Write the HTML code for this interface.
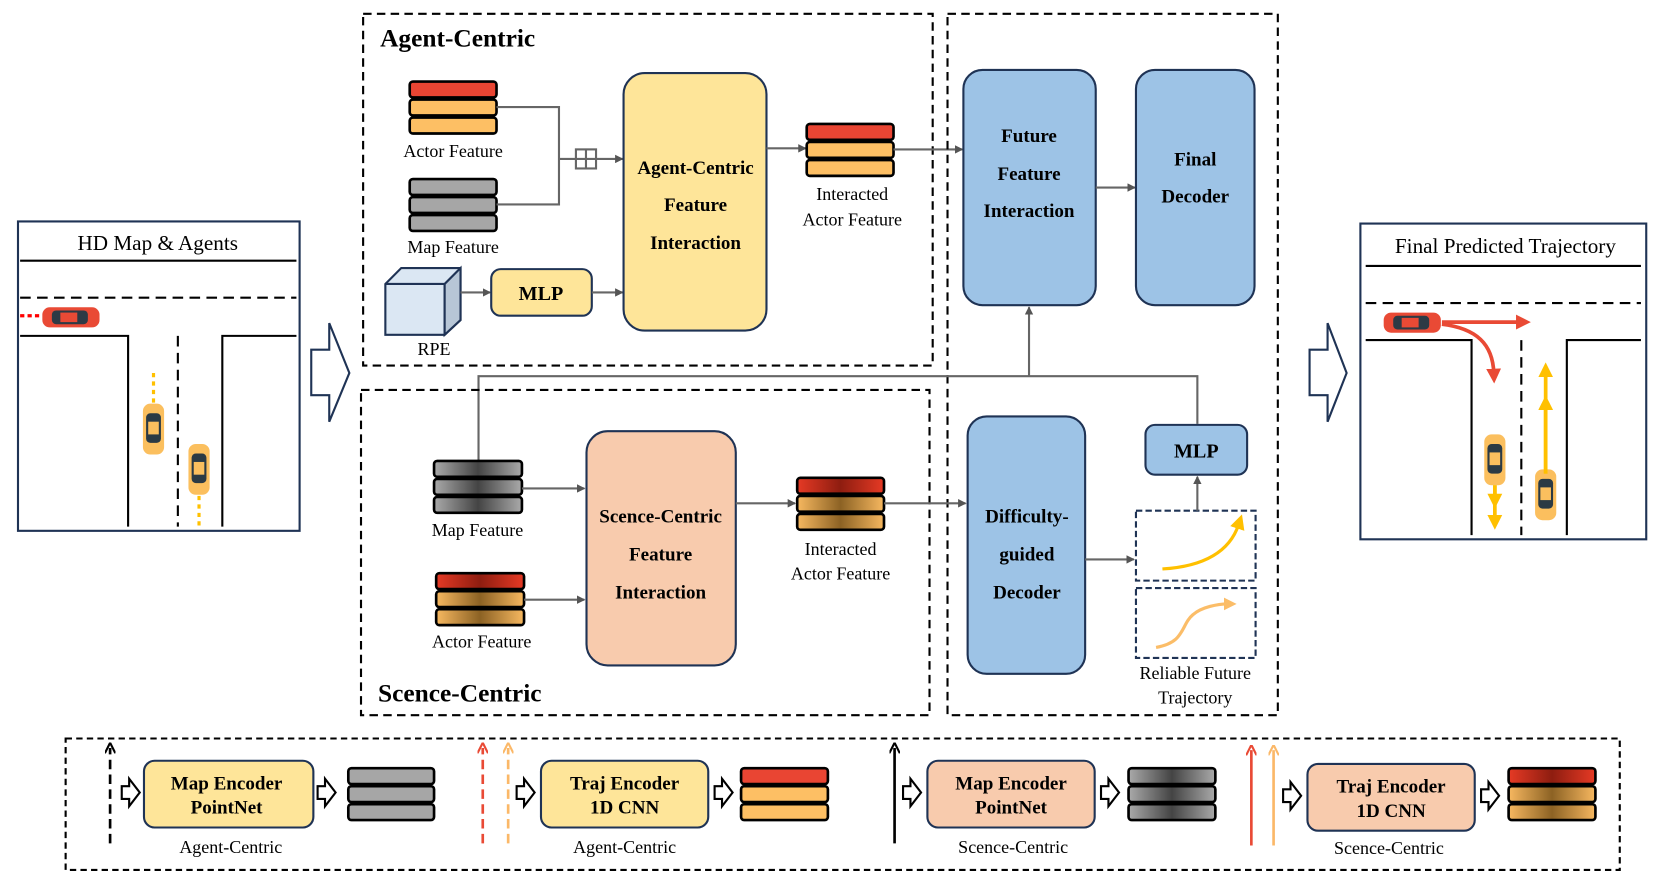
<!DOCTYPE html>
<html><head><meta charset="utf-8"><style>
html,body{margin:0;padding:0;background:#fff}
svg{display:block}
text{font-family:"Liberation Serif",serif;fill:#000}
.b{font-weight:bold}
</style></head><body>
<svg width="1660" height="872" viewBox="0 0 1568 823" preserveAspectRatio="none" xmlns="http://www.w3.org/2000/svg">
<defs>
<marker id="ar" markerWidth="8" markerHeight="8" refX="7" refY="4" orient="auto" markerUnits="userSpaceOnUse"><path d="M0,0 L8,4 L0,8 z" fill="#555"/></marker>
<marker id="ak" markerWidth="10" markerHeight="10" refX="5" refY="5" orient="auto" markerUnits="userSpaceOnUse"><path d="M0,0 L10,5 L0,10" fill="none" stroke="#000" stroke-width="2"/></marker>
<marker id="ared" markerWidth="10" markerHeight="10" refX="5" refY="5" orient="auto" markerUnits="userSpaceOnUse"><path d="M0,0 L10,5 L0,10" fill="none" stroke="#e94a35" stroke-width="2"/></marker>
<marker id="aor" markerWidth="10" markerHeight="10" refX="5" refY="5" orient="auto" markerUnits="userSpaceOnUse"><path d="M0,0 L10,5 L0,10" fill="none" stroke="#fbb868" stroke-width="2"/></marker>
<marker id="rr" markerWidth="14" markerHeight="14" refX="4" refY="7" orient="auto" markerUnits="userSpaceOnUse"><path d="M0,0 L14,7 L0,14 z" fill="#e94a35"/></marker>
<marker id="yy" markerWidth="14" markerHeight="14" refX="4" refY="7" orient="auto" markerUnits="userSpaceOnUse"><path d="M0,0 L14,7 L0,14 z" fill="#ffc000"/></marker>
<marker id="ly" markerWidth="12" markerHeight="12" refX="4" refY="6" orient="auto" markerUnits="userSpaceOnUse"><path d="M0,0 L12,6 L0,12 z" fill="#fbbd68"/></marker>
<linearGradient id="gg" x1="0" x2="1"><stop offset="0" stop-color="#aaa"/><stop offset=".5" stop-color="#444"/><stop offset="1" stop-color="#aaa"/></linearGradient>
<linearGradient id="gr" x1="0" x2="1"><stop offset="0" stop-color="#e63a25"/><stop offset=".5" stop-color="#8e1d10"/><stop offset="1" stop-color="#e63a25"/></linearGradient>
<linearGradient id="go" x1="0" x2="1"><stop offset="0" stop-color="#f7b860"/><stop offset=".5" stop-color="#8c6224"/><stop offset="1" stop-color="#f7b860"/></linearGradient>
<g id="car"><rect x="0" y="0" width="20" height="48" rx="7" fill="#fbbf5e"/><rect x="3" y="9" width="14" height="28" rx="4" fill="#2b3a44"/><rect x="5" y="17" width="10" height="12" fill="#fbbf5e"/></g>
<g id="rcar"><rect x="0" y="0" width="54" height="19" rx="7" fill="#e94a35"/><rect x="9" y="3" width="34" height="13" rx="4" fill="#2d3a45"/><rect x="17" y="5" width="16" height="9" fill="#e94a35"/></g>
</defs>

<!-- Left box -->
<rect x="17" y="209" width="266" height="292" fill="#fff" stroke="#1f3355" stroke-width="2"/>
<text x="149" y="236" font-size="20" text-anchor="middle">HD Map &amp; Agents</text>
<line x1="19" y1="246" x2="280" y2="246" stroke="#000" stroke-width="2"/>
<line x1="19" y1="281" x2="280" y2="281" stroke="#000" stroke-width="2" stroke-dasharray="10,6"/>
<path d="M19,317 H121 V497 M280,317 H210 V497" fill="none" stroke="#000" stroke-width="2"/>
<line x1="168" y1="317" x2="168" y2="497" stroke="#000" stroke-width="2" stroke-dasharray="10,6"/>
<line x1="19" y1="298" x2="40" y2="298" stroke="#f00" stroke-width="3" stroke-dasharray="4,3"/>
<use href="#rcar" x="40" y="290"/>
<line x1="145" y1="352" x2="145" y2="380" stroke="#ffc000" stroke-width="3" stroke-dasharray="4,4"/>
<use href="#car" x="135" y="381"/>
<use href="#car" x="178" y="419"/>
<line x1="188" y1="468" x2="188" y2="497" stroke="#ffc000" stroke-width="3" stroke-dasharray="4,4"/>

<!-- big arrows -->
<path d="M294,330 H311 V305 L330,352 L311,398 V373 H294 Z" fill="#fff" stroke="#1f3355" stroke-width="2"/>
<path d="M1237,330 H1254 V305 L1272,352 L1254,398 V373 H1237 Z" fill="#fff" stroke="#1f3355" stroke-width="2"/>

<!-- Agent-Centric -->
<rect x="343" y="13" width="538" height="332" fill="none" stroke="#000" stroke-width="2" stroke-dasharray="8,5"/>
<text x="359" y="44" font-size="24" class="b">Agent-Centric</text>
<g stroke="#000" stroke-width="2.5">
<rect x="387" y="77" width="82" height="15" rx="3" fill="#e94533"/>
<rect x="387" y="94" width="82" height="15" rx="3" fill="#fdbf64"/>
<rect x="387" y="111" width="82" height="15" rx="3" fill="#fdbf64"/>
<rect x="387" y="169" width="82" height="15" rx="3" fill="#a6a6a6"/>
<rect x="387" y="186" width="82" height="15" rx="3" fill="#a6a6a6"/>
<rect x="387" y="203" width="82" height="15" rx="3" fill="#a6a6a6"/>
</g>
<text x="428" y="148" font-size="17" text-anchor="middle">Actor Feature</text>
<text x="428" y="239" font-size="17" text-anchor="middle">Map Feature</text>
<path d="M469,101 H528 V193 H469" fill="none" stroke="#666" stroke-width="2"/>
<line x1="528" y1="150" x2="588" y2="150" stroke="#666" stroke-width="2" marker-end="url(#ar)"/>
<rect x="544" y="141" width="19" height="18" fill="#fff" stroke="#666" stroke-width="2"/>
<path d="M553.5,141 V159 M544,150 H563" stroke="#666" stroke-width="2"/>
<path d="M364,268 L379,253 H435 V302 L420,316 H364 Z" fill="#dbe7f3" stroke="#1f3355" stroke-width="2"/>
<path d="M364,268 H420 V316 M420,268 L435,253" fill="none" stroke="#1f3355" stroke-width="2"/>
<path d="M420,268 L435,253 V302 L420,316 Z" fill="#b7c6d6" stroke="#1f3355" stroke-width="2"/>
<text x="410" y="335" font-size="17" text-anchor="middle">RPE</text>
<line x1="435" y1="276" x2="463" y2="276" stroke="#666" stroke-width="2" marker-end="url(#ar)"/>
<rect x="464" y="254" width="95" height="44" rx="9" fill="#fee599" stroke="#1f3355" stroke-width="2"/>
<text x="511" y="283" font-size="19" class="b" text-anchor="middle">MLP</text>
<line x1="559" y1="276" x2="588" y2="276" stroke="#666" stroke-width="2" marker-end="url(#ar)"/>
<rect x="589" y="69" width="135" height="243" rx="20" fill="#fee599" stroke="#1f3355" stroke-width="2"/>
<text x="657" y="164" font-size="18" class="b" text-anchor="middle">Agent-Centric</text>
<text x="657" y="199" font-size="18" class="b" text-anchor="middle">Feature</text>
<text x="657" y="235" font-size="18" class="b" text-anchor="middle">Interaction</text>
<line x1="724" y1="140" x2="761" y2="140" stroke="#666" stroke-width="2" marker-end="url(#ar)"/>
<g stroke="#000" stroke-width="2.5">
<rect x="762" y="117" width="82" height="15" rx="3" fill="#e94533"/>
<rect x="762" y="134" width="82" height="15" rx="3" fill="#fdbf64"/>
<rect x="762" y="151" width="82" height="15" rx="3" fill="#fdbf64"/>
</g>
<text x="805" y="189" font-size="17" text-anchor="middle">Interacted</text>
<text x="805" y="213" font-size="17" text-anchor="middle">Actor Feature</text>
<line x1="844" y1="141" x2="909" y2="141" stroke="#666" stroke-width="2" marker-end="url(#ar)"/>

<!-- right dashed -->
<rect x="895" y="13" width="312" height="662" fill="none" stroke="#000" stroke-width="2" stroke-dasharray="8,5"/>
<rect x="910" y="66" width="125" height="222" rx="18" fill="#9dc3e6" stroke="#1f3355" stroke-width="2"/>
<text x="972" y="134" font-size="18" class="b" text-anchor="middle">Future</text>
<text x="972" y="170" font-size="18" class="b" text-anchor="middle">Feature</text>
<text x="972" y="205" font-size="18" class="b" text-anchor="middle">Interaction</text>
<line x1="1035" y1="177" x2="1072" y2="177" stroke="#666" stroke-width="2" marker-end="url(#ar)"/>
<rect x="1073" y="66" width="112" height="222" rx="18" fill="#9dc3e6" stroke="#1f3355" stroke-width="2"/>
<text x="1129" y="156" font-size="18" class="b" text-anchor="middle">Final</text>
<text x="1129" y="191" font-size="18" class="b" text-anchor="middle">Decoder</text>

<!-- connectors across -->
<path d="M452,435 V355 H1131 V400" fill="none" stroke="#666" stroke-width="2"/>
<line x1="972" y1="355" x2="972" y2="290" stroke="#666" stroke-width="2" marker-end="url(#ar)"/>

<!-- Scene-Centric -->
<rect x="341" y="368" width="537" height="307" fill="none" stroke="#000" stroke-width="2" stroke-dasharray="8,5"/>
<text x="357" y="662" font-size="24" class="b">Scence-Centric</text>
<g stroke="#000" stroke-width="2.5">
<rect x="410" y="435" width="83" height="15" rx="3" fill="url(#gg)"/>
<rect x="410" y="452" width="83" height="15" rx="3" fill="url(#gg)"/>
<rect x="410" y="469" width="83" height="15" rx="3" fill="url(#gg)"/>
<rect x="412" y="541" width="83" height="15" rx="3" fill="url(#gr)"/>
<rect x="412" y="558" width="83" height="15" rx="3" fill="url(#go)"/>
<rect x="412" y="575" width="83" height="15" rx="3" fill="url(#go)"/>
<rect x="753" y="451" width="82" height="15" rx="3" fill="url(#gr)"/>
<rect x="753" y="468" width="82" height="15" rx="3" fill="url(#go)"/>
<rect x="753" y="485" width="82" height="15" rx="3" fill="url(#go)"/>
</g>
<text x="451" y="506" font-size="17" text-anchor="middle">Map Feature</text>
<text x="455" y="611" font-size="17" text-anchor="middle">Actor Feature</text>
<line x1="493" y1="461" x2="552" y2="461" stroke="#666" stroke-width="2" marker-end="url(#ar)"/>
<line x1="495" y1="566" x2="552" y2="566" stroke="#666" stroke-width="2" marker-end="url(#ar)"/>
<rect x="554" y="407" width="141" height="221" rx="20" fill="#f8cbad" stroke="#1f3355" stroke-width="2"/>
<text x="624" y="493" font-size="18" class="b" text-anchor="middle">Scence-Centric</text>
<text x="624" y="529" font-size="18" class="b" text-anchor="middle">Feature</text>
<text x="624" y="565" font-size="18" class="b" text-anchor="middle">Interaction</text>
<line x1="695" y1="475" x2="751" y2="475" stroke="#666" stroke-width="2" marker-end="url(#ar)"/>
<text x="794" y="524" font-size="17" text-anchor="middle">Interacted</text>
<text x="794" y="547" font-size="17" text-anchor="middle">Actor Feature</text>
<line x1="835" y1="475" x2="912" y2="475" stroke="#666" stroke-width="2" marker-end="url(#ar)"/>
<rect x="914" y="393" width="111" height="243" rx="18" fill="#9dc3e6" stroke="#1f3355" stroke-width="2"/>
<text x="970" y="493" font-size="18" class="b" text-anchor="middle">Difficulty-</text>
<text x="970" y="529" font-size="18" class="b" text-anchor="middle">guided</text>
<text x="970" y="565" font-size="18" class="b" text-anchor="middle">Decoder</text>
<line x1="1025" y1="528" x2="1071" y2="528" stroke="#666" stroke-width="2" marker-end="url(#ar)"/>
<rect x="1073" y="482" width="113" height="66" fill="none" stroke="#1f3355" stroke-width="2" stroke-dasharray="6,3"/>
<rect x="1073" y="555" width="113" height="66" fill="none" stroke="#1f3355" stroke-width="2" stroke-dasharray="6,3"/>
<path d="M1098,537 C1130,535 1160,525 1170,495" fill="none" stroke="#ffc000" stroke-width="3" marker-end="url(#yy)"/>
<path d="M1092,611 C1120,606 1115,590 1127,580 C1135,573 1150,570 1160,570" fill="none" stroke="#fbbd68" stroke-width="3" marker-end="url(#ly)"/>
<line x1="1131" y1="482" x2="1131" y2="450" stroke="#666" stroke-width="2" marker-end="url(#ar)"/>
<rect x="1082" y="401" width="96" height="47" rx="9" fill="#9dc3e6" stroke="#1f3355" stroke-width="2"/>
<text x="1130" y="432" font-size="19" class="b" text-anchor="middle">MLP</text>
<text x="1129" y="641" font-size="17" text-anchor="middle">Reliable Future</text>
<text x="1129" y="664" font-size="17" text-anchor="middle">Trajectory</text>

<!-- Right box -->
<rect x="1285" y="211" width="270" height="298" fill="#fff" stroke="#1f3355" stroke-width="2"/>
<text x="1422" y="239" font-size="20" text-anchor="middle">Final Predicted Trajectory</text>
<line x1="1290" y1="251" x2="1550" y2="251" stroke="#000" stroke-width="2"/>
<line x1="1290" y1="286" x2="1550" y2="286" stroke="#000" stroke-width="2" stroke-dasharray="10,6"/>
<path d="M1290,321 H1390 V505 M1550,321 H1480 V505" fill="none" stroke="#000" stroke-width="2"/>
<line x1="1437" y1="321" x2="1437" y2="505" stroke="#000" stroke-width="2" stroke-dasharray="10,6"/>
<use href="#rcar" x="1307" y="295"/>
<line x1="1362" y1="304" x2="1436" y2="304" stroke="#e94a35" stroke-width="3.5" marker-end="url(#rr)"/>
<path d="M1362,306 C1395,310 1410,325 1411,352" fill="none" stroke="#e94a35" stroke-width="3.5" marker-end="url(#rr)"/>
<use href="#car" x="1402" y="410"/>
<line x1="1412" y1="458" x2="1412" y2="490" stroke="#ffc000" stroke-width="3.5" marker-end="url(#yy)"/>
<line x1="1412" y1="458" x2="1412" y2="470" stroke="#ffc000" stroke-width="3.5" marker-end="url(#yy)"/>
<use href="#car" x="1450" y="443"/>
<line x1="1460" y1="447" x2="1460" y2="352" stroke="#ffc000" stroke-width="3.5" marker-end="url(#yy)"/>
<line x1="1460" y1="447" x2="1460" y2="383" stroke="#ffc000" stroke-width="3.5" marker-end="url(#yy)"/>

<!-- Legend -->
<rect x="62" y="697" width="1468" height="124" fill="none" stroke="#000" stroke-width="2" stroke-dasharray="6,4"/>
<line x1="104" y1="796" x2="104" y2="706" stroke="#000" stroke-width="2.5" stroke-dasharray="9,5" marker-end="url(#ak)"/>
<line x1="456" y1="796" x2="456" y2="706" stroke="#e94a35" stroke-width="2.5" stroke-dasharray="9,5" marker-end="url(#ared)"/>
<line x1="480" y1="796" x2="480" y2="706" stroke="#fbb868" stroke-width="2.5" stroke-dasharray="9,5" marker-end="url(#aor)"/>
<line x1="845" y1="796" x2="845" y2="706" stroke="#000" stroke-width="2.5" marker-end="url(#ak)"/>
<line x1="1182" y1="798" x2="1182" y2="708" stroke="#e94a35" stroke-width="2.5" marker-end="url(#ared)"/>
<line x1="1203" y1="798" x2="1203" y2="708" stroke="#fbb868" stroke-width="2.5" marker-end="url(#aor)"/>
<g fill="#fff" stroke="#000" stroke-width="2">
<path d="M115,742 h7 v-7 l10,13 l-10,13 v-7 h-7 z"/>
<path d="M300,742 h7 v-7 l10,13 l-10,13 v-7 h-7 z"/>
<path d="M488,742 h7 v-7 l10,13 l-10,13 v-7 h-7 z"/>
<path d="M675,742 h7 v-7 l10,13 l-10,13 v-7 h-7 z"/>
<path d="M853,742 h7 v-7 l10,13 l-10,13 v-7 h-7 z"/>
<path d="M1040,742 h7 v-7 l10,13 l-10,13 v-7 h-7 z"/>
<path d="M1212,745 h7 v-7 l10,13 l-10,13 v-7 h-7 z"/>
<path d="M1399,745 h7 v-7 l10,13 l-10,13 v-7 h-7 z"/>
</g>
<rect x="136" y="718" width="160" height="63" rx="10" fill="#fee599" stroke="#1f3355" stroke-width="2"/>
<text x="214" y="745" font-size="18" class="b" text-anchor="middle">Map Encoder</text>
<text x="214" y="768" font-size="18" class="b" text-anchor="middle">PointNet</text>
<rect x="511" y="718" width="158" height="63" rx="10" fill="#fee599" stroke="#1f3355" stroke-width="2"/>
<text x="590" y="745" font-size="18" class="b" text-anchor="middle">Traj Encoder</text>
<text x="590" y="768" font-size="18" class="b" text-anchor="middle">1D CNN</text>
<rect x="876" y="718" width="158" height="63" rx="10" fill="#f8cbad" stroke="#1f3355" stroke-width="2"/>
<text x="955" y="745" font-size="18" class="b" text-anchor="middle">Map Encoder</text>
<text x="955" y="768" font-size="18" class="b" text-anchor="middle">PointNet</text>
<rect x="1235" y="721" width="158" height="63" rx="10" fill="#f8cbad" stroke="#1f3355" stroke-width="2"/>
<text x="1314" y="748" font-size="18" class="b" text-anchor="middle">Traj Encoder</text>
<text x="1314" y="771" font-size="18" class="b" text-anchor="middle">1D CNN</text>
<g stroke="#000" stroke-width="2.5">
<rect x="329" y="725" width="81" height="15" rx="3" fill="#a6a6a6"/>
<rect x="329" y="742" width="81" height="15" rx="3" fill="#a6a6a6"/>
<rect x="329" y="759" width="81" height="15" rx="3" fill="#a6a6a6"/>
<rect x="700" y="725" width="82" height="15" rx="3" fill="#e94533"/>
<rect x="700" y="742" width="82" height="15" rx="3" fill="#fdbf64"/>
<rect x="700" y="759" width="82" height="15" rx="3" fill="#fdbf64"/>
<rect x="1066" y="725" width="82" height="15" rx="3" fill="url(#gg)"/>
<rect x="1066" y="742" width="82" height="15" rx="3" fill="url(#gg)"/>
<rect x="1066" y="759" width="82" height="15" rx="3" fill="url(#gg)"/>
<rect x="1425" y="725" width="82" height="15" rx="3" fill="url(#gr)"/>
<rect x="1425" y="742" width="82" height="15" rx="3" fill="url(#go)"/>
<rect x="1425" y="759" width="82" height="15" rx="3" fill="url(#go)"/>
</g>
<text x="218" y="805" font-size="17" text-anchor="middle">Agent-Centric</text>
<text x="590" y="805" font-size="17" text-anchor="middle">Agent-Centric</text>
<text x="957" y="805" font-size="17" text-anchor="middle">Scence-Centric</text>
<text x="1312" y="806" font-size="17" text-anchor="middle">Scence-Centric</text>
</svg>
</body></html>
